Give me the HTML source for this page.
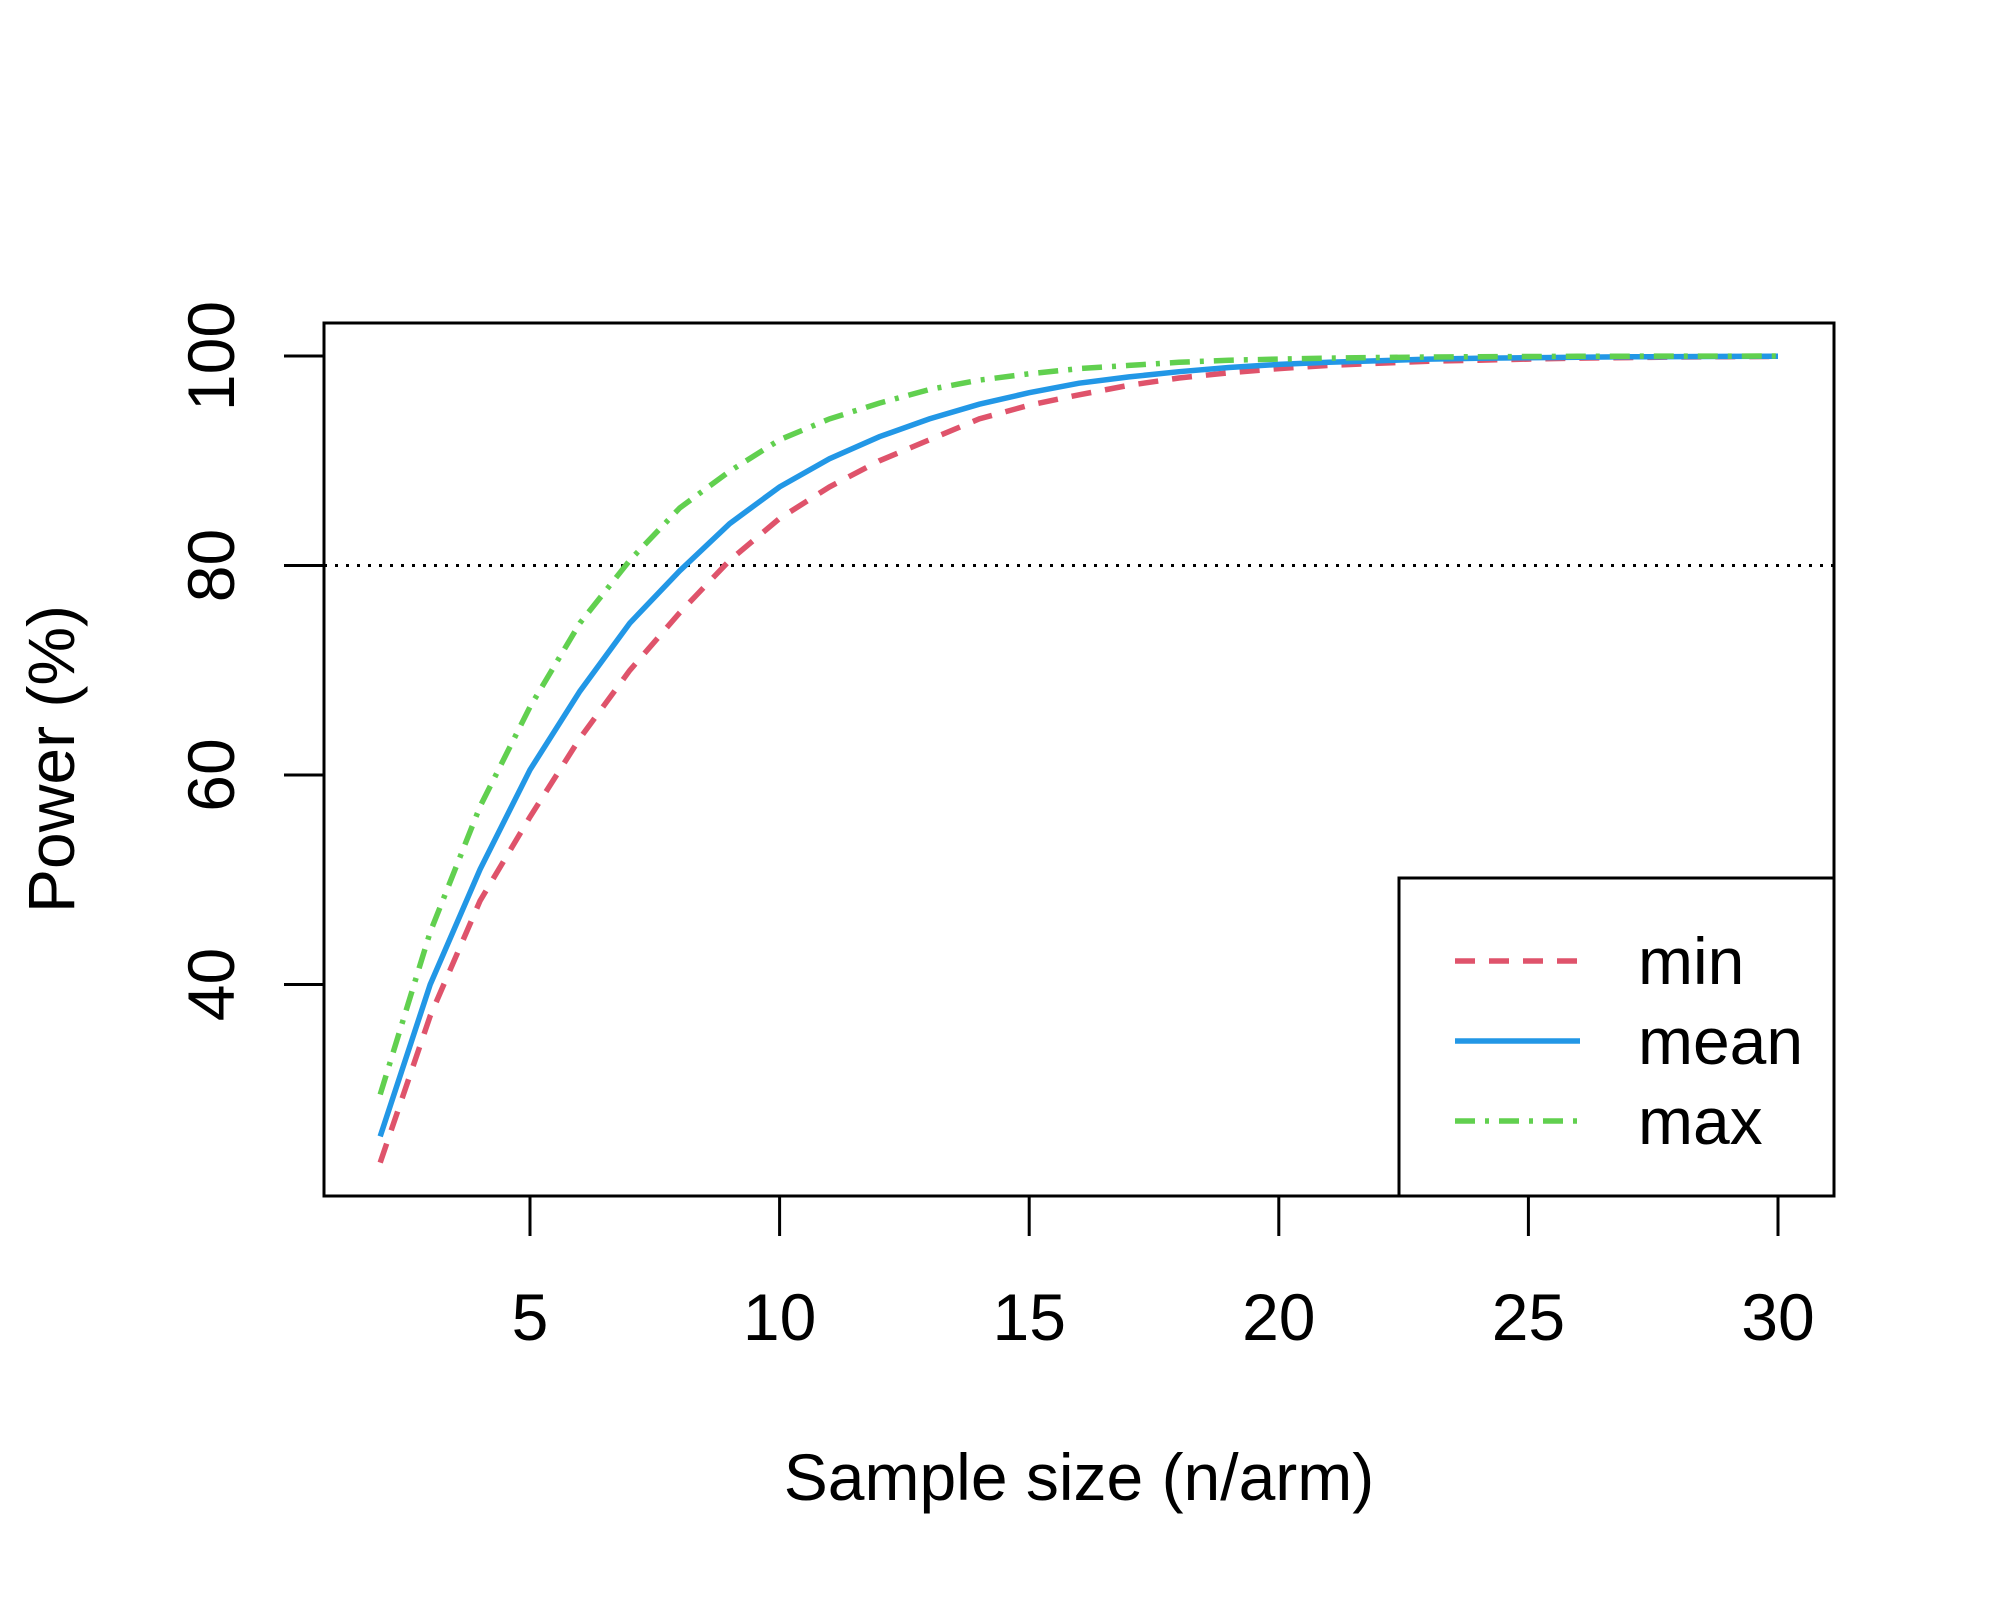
<!DOCTYPE html>
<html><head><meta charset="utf-8"><style>
html,body{margin:0;padding:0;background:#fff;}
svg{display:block;font-family:"Liberation Sans",Arial,sans-serif;}
</style></head><body>
<svg id="chart" width="2000" height="1600" viewBox="0 0 2000 1600">
<rect x="0" y="0" width="2000" height="1600" fill="#fff"/>
<g id="plot"></g>
</svg>
<script>
const sampleSizes = [2,3,4,5,6,7,8,9,10,11,12,13,14,15,16,17,18,19,20,21,22,23,24,25,26,27,28,29,30];
const minPower = [23,37,48,56,63.5,70,75.5,80.5,84.5,87.5,90,92,94,95.3,96.3,97.2,97.9,98.4,98.8,99.1,99.3,99.5,99.6,99.7,99.8,99.85,99.9,99.93,99.95];
const meanPower = [25.5,40,51,60.5,68,74.5,79.5,84,87.5,90.2,92.3,94,95.4,96.5,97.4,98,98.5,98.9,99.2,99.4,99.55,99.7,99.78,99.84,99.88,99.92,99.94,99.96,99.97];
const maxPower = [29.5,45,57,66.5,74.5,80.5,85.5,89,92,94,95.5,96.8,97.7,98.3,98.8,99.1,99.4,99.6,99.7,99.8,99.86,99.9,99.93,99.95,99.97,99.98,99.99,99.99,100];
const xTicks = [5,10,15,20,25,30];
const yTicks = [40,60,80,100];
const refLine = 80;

const NS = "http://www.w3.org/2000/svg";
const g = document.getElementById('plot');
const X = v => 530 + (v - 5) * (1778 - 530) / 25;
const Y = v => 356 + (100 - v) * (565.5 - 356) / 20;
function mk(tag, attrs, parent){ const e = document.createElementNS(NS, tag); for (const k in attrs) e.setAttribute(k, attrs[k]); (parent||g).appendChild(e); return e; }
const SW = 3;
const FS = 66;

const box = mk('rect',{x:324,y:323,width:1510,height:873,fill:'none',stroke:'#000','stroke-width':SW});



const rl = mk('line',{x1:324,x2:1834,y1:Y(refLine),y2:Y(refLine),stroke:'#000','stroke-width':SW,'stroke-dasharray':'3 8'});



const xa = mk('line',{x1:X(xTicks[0]),x2:X(xTicks[xTicks.length-1]),y1:1196,y2:1196,stroke:'#000','stroke-width':SW});


xTicks.forEach(t => {
  const l = mk('line',{x1:X(t),x2:X(t),y1:1196,y2:1236,stroke:'#000','stroke-width':SW});
  
  
  const tx = mk('text',{x:X(t),y:1340,'font-size':FS,'text-anchor':'middle'});
  tx.textContent = t;
  
  
});
const ya = mk('line',{x1:324,x2:324,y1:Y(yTicks[0]),y2:Y(yTicks[yTicks.length-1]),stroke:'#000','stroke-width':SW});


yTicks.forEach(t => {
  const l = mk('line',{x1:284,x2:324,y1:Y(t),y2:Y(t),stroke:'#000','stroke-width':SW});
  
  
  const tx = mk('text',{x:234,y:Y(t),'font-size':FS,'text-anchor':'middle',transform:`rotate(-90 234 ${Y(t)})`});
  tx.textContent = t;
  
  
});

const xt = mk('text',{x:1079,y:1500,'font-size':FS,'text-anchor':'middle'});
xt.textContent = 'Sample size (n/arm)';


const yt = mk('text',{x:74,y:759,'font-size':FS,'text-anchor':'middle',transform:'rotate(-90 74 759)'});
yt.textContent = 'Power (%)';



const series = [
  {name:'min', vals:minPower, color:'#DF536B', dash:'20 14'},
  {name:'mean', vals:meanPower, color:'#2297E6', dash:''},
  {name:'max', vals:maxPower, color:'#61D04F', dash:'20 10 4 10'}
];
series.forEach(s => {
  const d = s.vals.map((v,i) => (i?'L':'M') + X(sampleSizes[i]).toFixed(1) + ' ' + Y(v).toFixed(1)).join(' ');
  const p = mk('path',{d:d,fill:'none',stroke:s.color,'stroke-width':5.5,'stroke-dasharray':s.dash});
  
  
});

const lg = mk('g',{});


const lb = mk('rect',{x:1399,y:878,width:435,height:318,fill:'#fff',stroke:'#000','stroke-width':SW},lg);


const ly = [961,1041,1121];
series.forEach((s,i) => {
  const l = mk('line',{x1:1455,x2:1580,y1:ly[i],y2:ly[i],stroke:s.color,'stroke-width':5.5,'stroke-dasharray':s.dash},lg);
  
  
  const t = mk('text',{x:1638,y:ly[i]+23,'font-size':FS},lg);
  t.textContent = s.name;
  
  
});
</script>
</body></html>
